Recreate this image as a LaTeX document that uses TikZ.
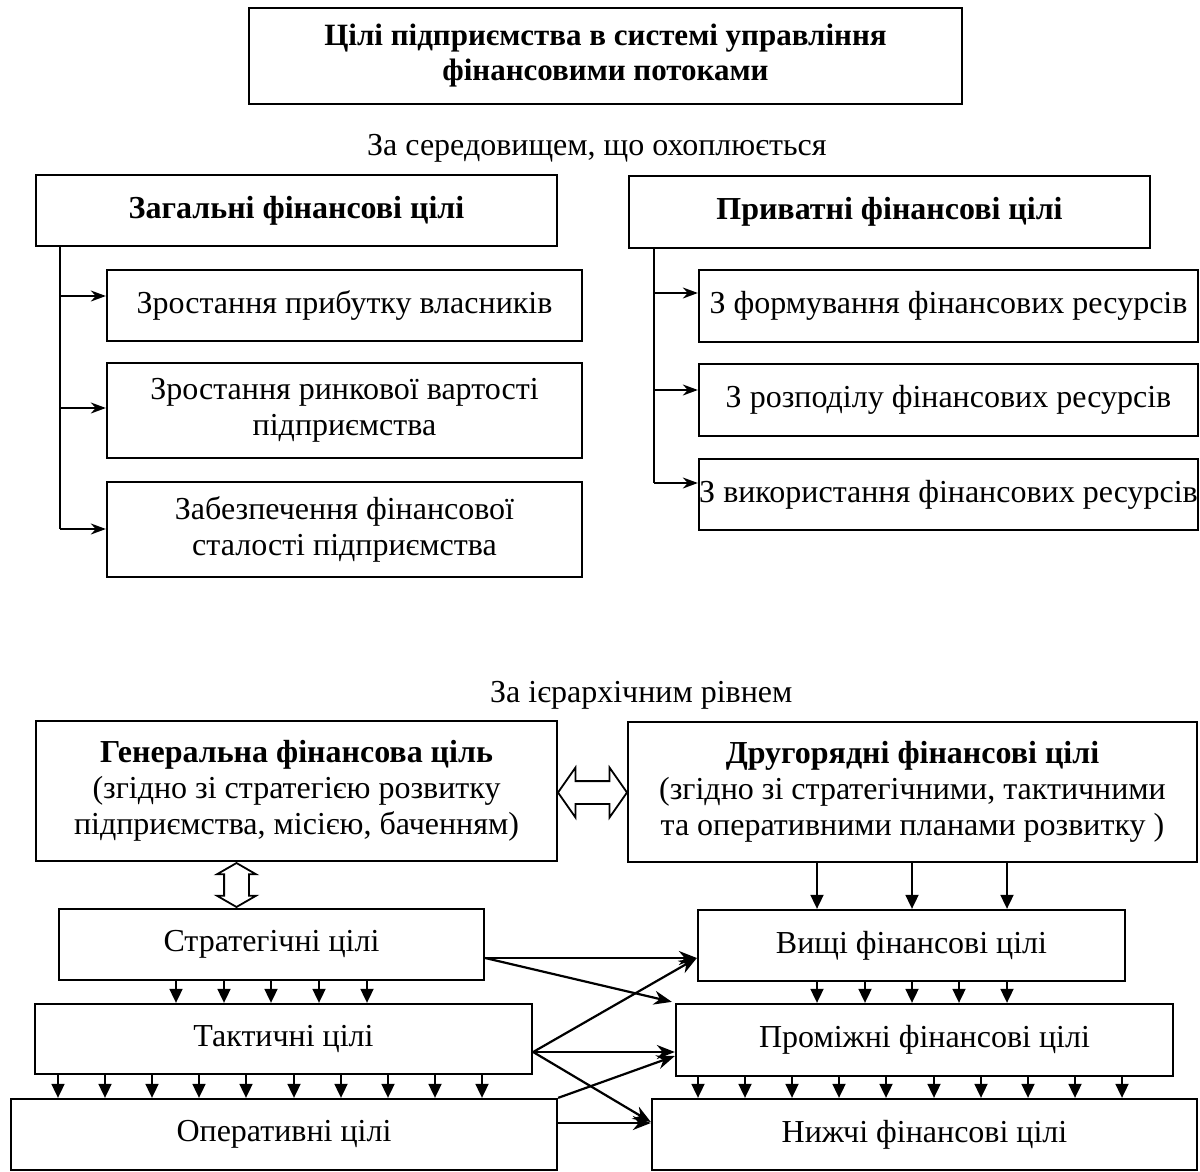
\documentclass[tikz,border=0pt]{standalone}
\usepackage{fontspec}
\setmainfont{Liberation Serif}
\usetikzlibrary{arrows.meta,shapes.arrows,calc}
\newcommand\bodyfs{\fontsize{32}{36}\selectfont}
\newcommand\titlefs{\fontsize{31}{35}\selectfont}
\tikzset{
  box/.style={draw, line width=2.3pt, inner sep=0pt, align=center, font=\bodyfs},
  arr/.style={line width=2.2pt, -{Stealth[length=18pt,width=14pt]}},
  barr/.style={line width=2pt, -{Stealth[length=15pt,width=11pt]}},
  sarr/.style={line width=1.8pt, -{Triangle[length=14pt,width=13pt]}},
  harr/.style={draw, line width=1.8pt, double arrow, inner xsep=0pt}
}
\begin{document}
\begin{tikzpicture}[x=1pt,y=-1pt]
\useasboundingbox (0,0) rectangle (1200,1172);
% top part
\node[box, font=\titlefs\bfseries, minimum width=713, minimum height=96] (title) at (605.5,56)
  {Цілі підприємства в системі управління\\фінансовими потоками};
\node[inner sep=0pt, font=\bodyfs, anchor=base west] (sub1) at (367,155) {За середовищем, що охоплюється};
\node[box, font=\bodyfs\bfseries, minimum width=521, minimum height=71] (zag) at (296.5,210.5) {Загальні фінансові цілі};
\node[box, font=\bodyfs\bfseries, minimum width=521, minimum height=72] (priv) at (889.5,212) {Приватні фінансові цілі};
\node[box, minimum width=475, minimum height=71] (L1) at (344.5,305.5) {Зростання прибутку власників};
\node[box, minimum width=475, minimum height=95] (L2) at (344.5,410.5) {Зростання ринкової вартості\\підприємства};
\node[box, minimum width=475, minimum height=95] (L3) at (344.5,529.5) {Забезпечення фінансової\\сталості підприємства};
\node[box, minimum width=499, minimum height=72] (R1) at (948.5,306) {З формування фінансових ресурсів};
\node[box, minimum width=499, minimum height=72] (R2) at (948.5,400) {З розподілу фінансових ресурсів};
\node[box, minimum width=499, minimum height=71] (R3) at (948.5,494.5) {З використання фінансових ресурсів};
% trunks
\coordinate (lt) at (zag.south -| 60,0);
\coordinate (l1) at (60,296);
\coordinate (l2) at (60,408);
\coordinate (l3) at (60,529);
\draw[line width=2pt] (lt) -- (l3);
\draw[barr] (l1) -- (l1 -| L1.west);
\draw[barr] (l2) -- (l2 -| L2.west);
\draw[barr] (l3) -- (l3 -| L3.west);
\coordinate (rt) at (priv.south -| 654,0);
\coordinate (r1) at (654,293);
\coordinate (r2) at (654,390);
\coordinate (r3) at (654,483);
\draw[line width=2pt] (rt) -- (r3);
\draw[barr] (r1) -- (r1 -| R1.west);
\draw[barr] (r2) -- (r2 -| R2.west);
\draw[barr] (r3) -- (r3 -| R3.west);
% bottom part
\node[inner sep=0pt, font=\bodyfs, anchor=base west] (sub2) at (490,702) {За ієрархічним рівнем};
\node[box, minimum width=521, minimum height=140] (gen) at (296.5,791)
  {\textbf{Генеральна фінансова ціль}\\(згідно зі стратегією розвитку\\підприємства, місією, баченням)};
\node[box, minimum width=569, minimum height=140] (dru) at (912.5,792)
  {\textbf{Другорядні фінансові цілі}\\(згідно зі стратегічними, тактичними\\та оперативними планами розвитку )};
\node[box, minimum width=425, minimum height=71] (str) at (271.5,944.5) {Стратегічні цілі};
\node[box, minimum width=497, minimum height=70] (tak) at (283.5,1039) {Тактичні цілі};
\node[box, minimum width=546, minimum height=71] (ope) at (284,1134.5) {Оперативні цілі};
\node[box, minimum width=427, minimum height=71] (vys) at (911.5,945.5) {Вищі фінансові цілі};
\node[box, minimum width=497, minimum height=72] (pro) at (924.5,1040) {Проміжні фінансові цілі};
\node[box, minimum width=545, minimum height=71] (niz) at (924.5,1134.5) {Нижчі фінансові цілі};
% double arrows
\node[harr, minimum height=69pt, inner ysep=10.5pt, double arrow head extend=13.5pt,
      double arrow tip angle=110] (hd) at ($(gen.east)!0.5!(dru.west)+(0,1)$) {};
\node[harr, rotate=90, minimum height=44pt, inner ysep=11.5pt, double arrow head extend=7pt,
      double arrow tip angle=120] (vd) at ($(gen.south)!0.5!(str.north)+(-47.5,0)$) {};
% small vertical arrows
\foreach \x in {176,224,271,319,367}
  \draw[sarr] (\x,0 |- str.south) -- (\x,0 |- tak.north);
\foreach \x in {58,105,152,199,246,294,341,388,435,482}
  \draw[sarr] (\x,0 |- tak.south) -- (\x,0 |- ope.north);
\foreach \x in {817,912,1007}
  \draw[sarr] (\x,0 |- dru.south) -- (\x,0 |- vys.north);
\foreach \x in {817,865,912,959,1007}
  \draw[sarr] (\x,0 |- vys.south) -- (\x,0 |- pro.north);
\foreach \x in {698,745,792,839,886,934,981,1028,1075,1122}
  \draw[sarr] (\x,0 |- pro.south) -- (\x,0 |- niz.north);
% cross arrows
\coordinate (s1) at ($(str.east)+(0,13.5)$);
\coordinate (t1) at ($(tak.east)+(0,13)$);
\coordinate (v1) at ($(vys.west)+(0,12.5)$);
\coordinate (p1) at ($(pro.west)+(0,12)$);
\coordinate (p2) at ($(pro.west)+(0,16)$);
\coordinate (n1) at ($(niz.west)+(0,-12.5)$);
\coordinate (o1) at ($(ope.east)+(0,-11.5)$);
\coordinate (n2) at ($(niz.west)+(0,-11.5)$);
\draw[arr] (s1) -- (v1);
\draw[arr] (s1) -- ($(pro.north west)+(-3,-1)$);
\draw[arr] (t1) -- (v1);
\draw[arr] (t1) -- (p1);
\draw[arr] (t1) -- (n1);
\draw[arr] (ope.north east) -- (p2);
\draw[arr] (o1) -- (n2);
\end{tikzpicture}
\end{document}
